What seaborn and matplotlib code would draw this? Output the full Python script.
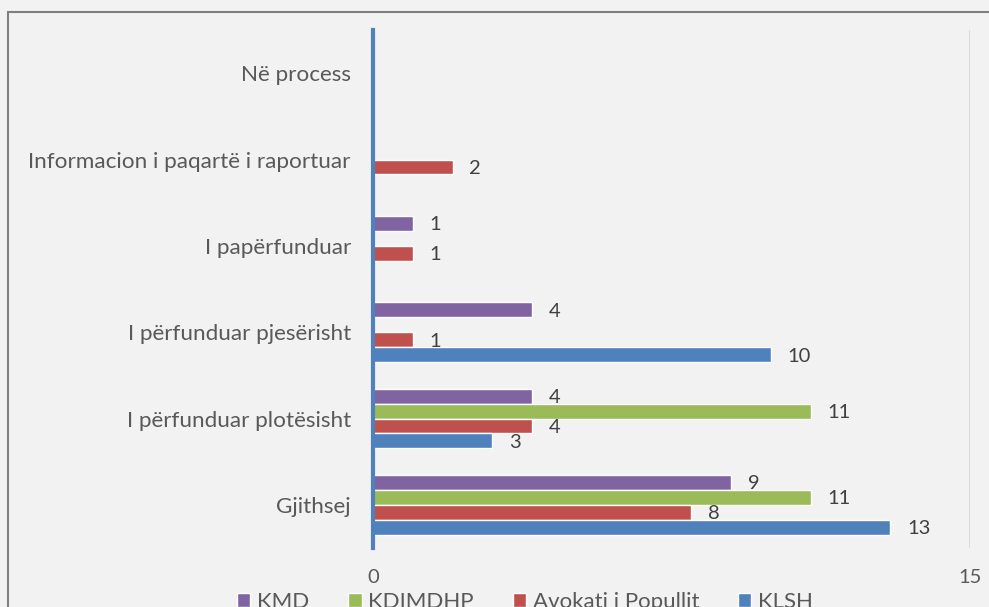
import matplotlib

matplotlib.use("Agg")
import matplotlib.pyplot as plt
import pandas as pd
import seaborn as sns
from matplotlib.patches import Rectangle

# ----------------------------------------------------------------------
# Data
# ----------------------------------------------------------------------
categories = [
    "Në process",
    "Informacion i paqartë i raportuar",
    "I papërfunduar",
    "I përfunduar pjesërisht",
    "I përfunduar plotësisht",
    "Gjithsej",
]
series = ["KMD", "KDIMDHP", "Avokati i Popullit", "KLSH"]
kmd = [0, 0, 1, 4, 4, 9]
kdimdhp = [0, 0, 0, 0, 11, 11]
avokati = [0, 2, 1, 1, 4, 8]
klsh = [0, 0, 0, 10, 3, 13]
x_ticks = [0, 15]

colors = ["#8064A2", "#9BBB59", "#C0504D", "#4F81BD"]
BG = "#F2F2F2"
TEXT = "#595959"

rows = []
for name, vals in zip(series, [kmd, kdimdhp, avokati, klsh]):
    for cat, v in zip(categories, vals):
        rows.append({"category": cat, "series": name, "value": v})
df = pd.DataFrame(rows)

sns.set_theme(style="white")
plt.rcParams["font.family"] = ["Lato", "DejaVu Sans"]

fig = plt.figure(figsize=(9.89, 6.07), dpi=100, facecolor=BG)
ax = fig.add_axes([373 / 989, 59 / 607, (970 - 373) / 989, (548 - 30) / 607])
ax.set_facecolor(BG)

sns.barplot(
    data=df,
    y="category",
    x="value",
    hue="series",
    order=categories,
    hue_order=series,
    palette=colors,
    saturation=1,
    width=0.69,
    orient="h",
    ax=ax,
)

# value labels, skip the empty bars
for cont in ax.containers:
    labels = [f"{b.get_width():g}" if b.get_width() > 0 else "" for b in cont]
    texts = ax.bar_label(cont, labels=labels, padding=12, fontsize=14.5, color="#404040")
    for t in texts:
        t.set_va("center_baseline")

ax.set_xlim(0, 15)
ax.set_xticks(x_ticks)
ax.xaxis.grid(True, color="#D9D9D9", lw=2)
ax.set_axisbelow(True)
ax.set_xlabel("")
ax.set_ylabel("")
for side in ["top", "right", "bottom"]:
    ax.spines[side].set_visible(False)
ax.spines["left"].set_color("#4F81BD")
ax.spines["left"].set_linewidth(3)
ax.tick_params(axis="y", length=0, pad=16, labelsize=16.2, labelcolor=TEXT)
ax.tick_params(axis="x", length=0, pad=15, labelsize=14.5, labelcolor=TEXT)

handles, labels = ax.get_legend_handles_labels()
ax.get_legend().remove()
fig.legend(
    handles,
    labels,
    ncol=4,
    loc="center",
    bbox_to_anchor=(525 / 989, 5 / 607),
    frameon=False,
    fontsize=16,
    labelcolor=TEXT,
    handlelength=0.6,
    handleheight=0.6,
    handletextpad=0.3,
    columnspacing=1.75,
)

# outer chart border, cut off on the right and bottom
fig.patches.append(
    Rectangle(
        (8 / 989, -0.1), 1.2, 1.1 - 12 / 607,
        transform=fig.transFigure, fill=False, edgecolor="#7F7F7F", lw=1.5,
    )
)

fig.savefig("out.png", dpi=100, facecolor=BG)
